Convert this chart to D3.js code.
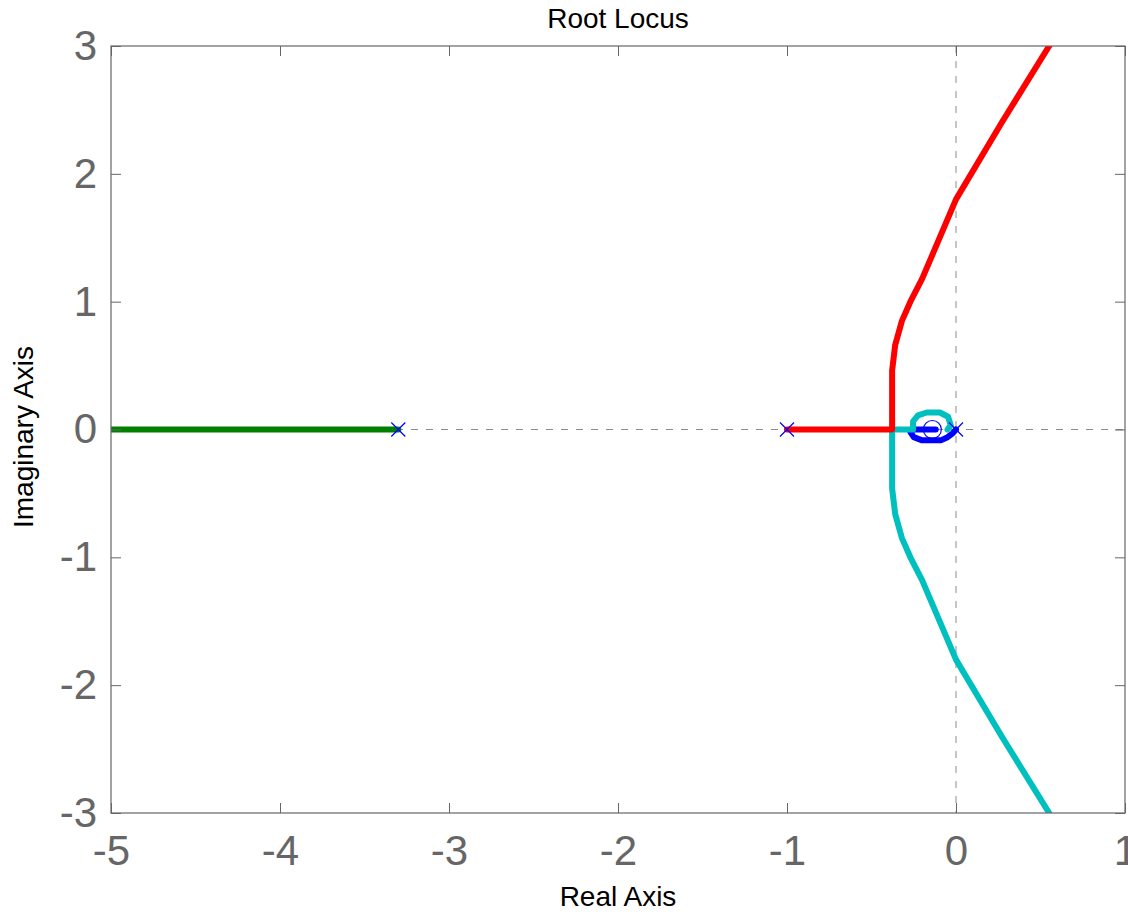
<!DOCTYPE html>
<html>
<head>
<meta charset="utf-8">
<script src="https://cdn.jsdelivr.net/npm/d3@7"></script>
<style>
  html, body { margin: 0; padding: 0; background: #fff; }
  svg { display: block; font-family: "Liberation Sans", Arial, sans-serif; }
</style>
</head>
<body>
<svg id="chart" width="1128" height="912"></svg>
<script>
// Axis ranges and ticks
const xDomain = [-5, 1];
const yDomain = [-3, 3];
const xTicks = [-5, -4, -3, -2, -1, 0, 1];
const yTicks = [-3, -2, -1, 0, 1, 2, 3];

// Open-loop poles and zeros
const poleRe = [-3.3, -1, 0];
const poleIm = [0, 0, 0];
const zeroRe = [-0.14];
const zeroIm = [0];

// Locus branches (real part, imaginary part)
const greenRe = [-5.2, -3.3];
const greenIm = [0, 0];

const blueRe = [0, -0.02, -0.05, -0.09, -0.2, -0.25, -0.27, -0.26, -0.12];
const blueIm = [0, -0.03, -0.06, -0.085, -0.085, -0.06, -0.02, 0, 0];

const cyanRe = [-0.05, -0.031, -0.047, -0.095, -0.173, -0.225, -0.254, -0.254, -0.378, -0.378, -0.36, -0.32, -0.27, -0.20, 0.0, 0.27, 0.556];
const cyanIm = [0, 0.034, 0.10, 0.133, 0.133, 0.11, 0.063, 0, 0, -0.46, -0.66, -0.85, -1.0, -1.18, -1.80, -2.40, -3.01];

const redRe = [-1, -0.378, -0.378, -0.36, -0.32, -0.27, -0.20, 0.0, 0.27, 0.556];
const redIm = [0, 0, 0.46, 0.66, 0.85, 1.0, 1.18, 1.80, 2.40, 3.01];

const W = 1128, H = 912;
const plot = { left: 111, right: 1125, top: 46, bottom: 813 };

const svg = d3.select("#chart");
const x = d3.scaleLinear().domain(xDomain).range([plot.left, plot.right]);
const y = d3.scaleLinear().domain(yDomain).range([plot.bottom, plot.top]);

svg.append("rect").attr("width", W).attr("height", H).attr("fill", "#fff");

// Clip locus to the axes box
svg.append("defs").append("clipPath").attr("id", "plotClip")
  .append("rect")
  .attr("x", plot.left).attr("y", plot.top)
  .attr("width", plot.right - plot.left).attr("height", plot.bottom - plot.top);

// Dashed reference lines through the origin
const ref = svg.append("g").attr("stroke", "#8c8c8c").attr("stroke-width", 1).attr("stroke-dasharray", "7,8");
ref.append("line").attr("x1", plot.left).attr("x2", plot.right).attr("y1", y(0)).attr("y2", y(0));
ref.append("line").attr("x1", x(0)).attr("x2", x(0)).attr("y1", plot.top).attr("y2", plot.bottom);

// Locus branches
const line = d3.line().x(d => x(d[0])).y(d => y(d[1]));
const branches = [
  { re: greenRe, im: greenIm, color: "#007f00" },
  { re: blueRe, im: blueIm, color: "#0000ff" },
  { re: cyanRe, im: cyanIm, color: "#00bfbf" },
  { re: redRe, im: redIm, color: "#ff0000" }
];
const gLoci = svg.append("g").attr("clip-path", "url(#plotClip)");
branches.forEach(b => {
  gLoci.append("path")
    .datum(b.re.map((r, i) => [r, b.im[i]]))
    .attr("d", line)
    .attr("fill", "none")
    .attr("stroke", b.color)
    .attr("stroke-width", 6)
    .attr("stroke-linejoin", "round")
    .attr("stroke-linecap", "round");
});

// Pole (x) and zero (o) markers
const gMarks = svg.append("g").attr("stroke", "#0000ff").attr("stroke-width", 1.2).attr("fill", "none");
poleRe.forEach((r, i) => {
  const cx = x(r), cy = y(poleIm[i]), s = 7;
  gMarks.append("path").attr("d", `M${cx - s},${cy - s}L${cx + s},${cy + s}M${cx - s},${cy + s}L${cx + s},${cy - s}`);
});
zeroRe.forEach((r, i) => {
  gMarks.append("circle").attr("cx", x(r)).attr("cy", y(zeroIm[i])).attr("r", 9);
});

// Axes box with inward ticks
const axisColor = "#666666";
const tickLen = 10;
const fmt = d => d < 0 ? "-" + Math.abs(d) : String(d);

const gx = svg.append("g").attr("transform", `translate(0,${plot.bottom})`)
  .call(d3.axisBottom(x).tickValues(xTicks).tickSizeInner(-tickLen).tickSizeOuter(0).tickPadding(22).tickFormat(fmt));
const gy = svg.append("g").attr("transform", `translate(${plot.left},0)`)
  .call(d3.axisLeft(y).tickValues(yTicks).tickSizeInner(-tickLen).tickSizeOuter(0).tickPadding(14).tickFormat(fmt));
const gxt = svg.append("g").attr("transform", `translate(0,${plot.top})`)
  .call(d3.axisTop(x).tickValues(xTicks).tickSizeInner(-tickLen).tickSizeOuter(0).tickFormat(""));
const gyr = svg.append("g").attr("transform", `translate(${plot.right},0)`)
  .call(d3.axisRight(y).tickValues(yTicks).tickSizeInner(-tickLen).tickSizeOuter(0).tickFormat(""));

[gx, gy, gxt, gyr].forEach(g => {
  g.select(".domain").remove();
  g.selectAll(".tick line").attr("stroke", axisColor).attr("stroke-width", 1);
  g.selectAll(".tick text").attr("fill", axisColor).attr("font-size", 42)
    .attr("font-family", "'Liberation Sans', Arial, sans-serif");
});

svg.append("rect")
  .attr("x", plot.left).attr("y", plot.top)
  .attr("width", plot.right - plot.left).attr("height", plot.bottom - plot.top)
  .attr("fill", "none").attr("stroke", axisColor).attr("stroke-width", 1.2);

// Title and axis labels
svg.append("text").attr("x", (plot.left + plot.right) / 2).attr("y", 28)
  .attr("text-anchor", "middle").attr("font-size", 28).attr("fill", "#000")
  .text("Root Locus");
svg.append("text").attr("x", (plot.left + plot.right) / 2).attr("y", 906)
  .attr("text-anchor", "middle").attr("font-size", 28).attr("fill", "#000")
  .text("Real Axis");
svg.append("text").attr("transform", "translate(33,437) rotate(-90)")
  .attr("text-anchor", "middle").attr("font-size", 28).attr("fill", "#000")
  .text("Imaginary Axis");
</script>
</body>
</html>
